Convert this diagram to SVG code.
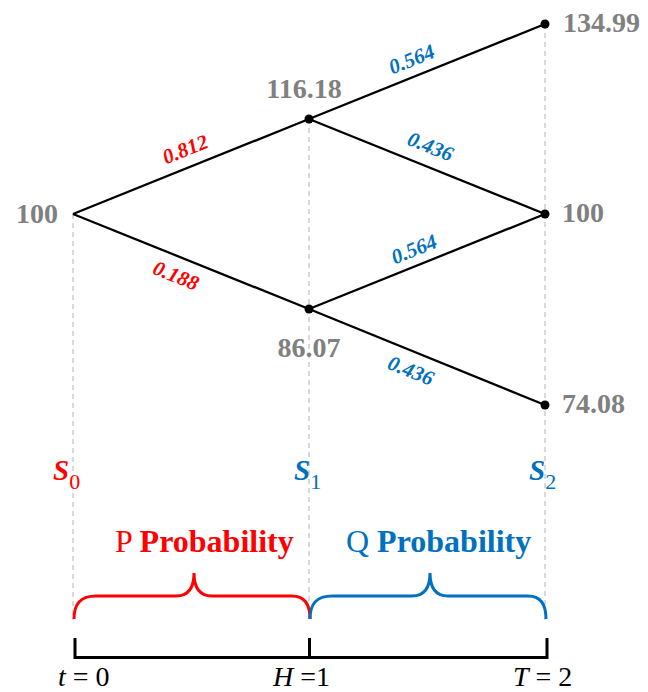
<svg xmlns="http://www.w3.org/2000/svg" width="648" height="692" viewBox="0 0 648 692">
<style>
.guide{stroke:#c0c0c0;stroke-width:1.2;stroke-dasharray:5,4;fill:none}
.edge{stroke:#000;stroke-width:2.3;fill:none}
.dot{fill:#000}
.val{font-family:"Liberation Serif","Times New Roman",serif;font-weight:bold;font-size:28px;fill:#808080}
.pl{font-family:"Liberation Serif","Times New Roman",serif;font-weight:bold;font-style:italic;font-size:21px;text-anchor:middle}
.red{fill:#ff0000}
.blue{fill:#0070c0}
.sl{font-family:"Liberation Serif","Times New Roman",serif;font-size:29px}
.sb{font-weight:bold;font-style:italic}
.sub{font-size:22px;font-weight:normal;font-style:normal}
.ax{font-family:"Liberation Serif","Times New Roman",serif;font-size:28px;fill:#000}
.pr{font-family:"Liberation Serif","Times New Roman",serif;font-size:32px}
.brace{fill:none;stroke-width:3}
</style>
<rect width="648" height="692" fill="#fff"/>
<g id="guides">
<line class="guide" x1="73" y1="214" x2="73" y2="620"/>
<line class="guide" x1="309" y1="119" x2="309" y2="620"/>
<line class="guide" x1="545" y1="24" x2="545" y2="620"/>
</g>
<g id="connectors">
<line class="edge" x1="73" y1="214" x2="309" y2="119"/>
<line class="edge" x1="73" y1="214" x2="309" y2="309"/>
<line class="edge" x1="309" y1="119" x2="545" y2="24"/>
<line class="edge" x1="309" y1="119" x2="545" y2="214"/>
<line class="edge" x1="309" y1="309" x2="545" y2="214"/>
<line class="edge" x1="309" y1="309" x2="545" y2="405"/>
<text class="pl red" transform="translate(192,166) rotate(-21.9)" x="0" y="-11">0.812</text>
<text class="pl red" transform="translate(183,258) rotate(21.9)" x="0" y="26">0.188</text>
<text class="pl blue" transform="translate(418,75) rotate(-21.9)" x="0" y="-10">0.564</text>
<text class="pl blue" transform="translate(423,165) rotate(21.9)" x="0" y="-13">0.436</text>
<text class="pl blue" transform="translate(420,264) rotate(-21.9)" x="0" y="-9">0.564</text>
<text class="pl blue" transform="translate(418,353) rotate(22.1)" x="0" y="26">0.436</text>
</g>
<g id="n0"><text class="val" x="58" y="223" text-anchor="end">100</text></g>
<g id="n1u"><circle class="dot" cx="309" cy="119" r="4.5"/><text class="val" x="304" y="98" text-anchor="middle">116.18</text></g>
<g id="n1d"><circle class="dot" cx="309" cy="309" r="4.5"/><text class="val" x="309" y="357" text-anchor="middle">86.07</text></g>
<g id="n2u"><circle class="dot" cx="545" cy="24" r="4.5"/><text class="val" x="563" y="32">134.99</text></g>
<g id="n2m"><circle class="dot" cx="545" cy="214" r="4.5"/><text class="val" x="562" y="222">100</text></g>
<g id="n2d"><circle class="dot" cx="545" cy="405" r="4.5"/><text class="val" x="562" y="413">74.08</text></g>
<g id="slabels">
<text class="sl red" x="53" y="480"><tspan class="sb">S</tspan><tspan class="sub" dy="9">0</tspan></text>
<text class="sl blue" x="294" y="480"><tspan class="sb">S</tspan><tspan class="sub" dy="9">1</tspan></text>
<text class="sl blue" x="529" y="480"><tspan class="sb">S</tspan><tspan class="sub" dy="9">2</tspan></text>
</g>
<g id="probP">
<text class="pr red" x="115" y="552">P <tspan font-weight="bold">Probability</tspan></text>
<path class="brace" stroke="#ff0000" d="M74,619 C74,604 80,596 96,596 L176,596 C188,596 194,588 194,573 C194,588 200,596 212,596 L292,596 C304,596 310,604 310,619"/>
</g>
<g id="probQ">
<text class="pr blue" x="346" y="552">Q <tspan font-weight="bold">Probability</tspan></text>
<path class="brace" stroke="#0070c0" d="M310,619 C310,604 316,596 332,596 L412,596 C424,596 430,588 430,573 C430,588 436,596 448,596 L528,596 C540,596 546,604 546,619"/>
</g>
<g id="axis">
<path d="M75,638 L75,657.5 L547,657.5 L547,638 M309.5,638 L309.5,657.5" fill="none" stroke="#000" stroke-width="3"/>
<text class="ax" x="58" y="686"><tspan font-style="italic">t</tspan> = 0</text>
<text class="ax" x="273" y="686"><tspan font-style="italic">H</tspan> =1</text>
<text class="ax" x="513" y="686"><tspan font-style="italic">T</tspan> = 2</text>
</g>
</svg>
